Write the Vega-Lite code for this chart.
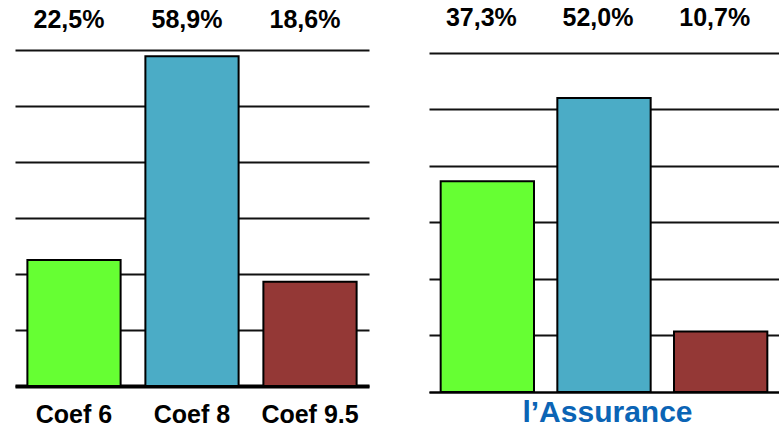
{
  "$schema": "https://vega.github.io/schema/vega-lite/v6.json",
  "padding": {"left": 15, "top": 5, "right": 0, "bottom": 0},
  "background": "white",
  "datasets": {
    "coef2": [
      {"coef": "Coef 6", "share": 0.225},
      {"coef": "Coef 8", "share": 0.589},
      {"coef": "Coef 9.5", "share": 0.186}
    ],
    "coef1": [
      {"coef": "Coef 6", "share": 0.373},
      {"coef": "Coef 8", "share": 0.520},
      {"coef": "Coef 9.5", "share": 0.107}
    ]
  },
  "spacing": 60,
  "hconcat": [
    {
      "width": 354,
      "height": 336,
      "data": {"name": "coef2"},
      "layer": [
        {
          "mark": {"type": "bar", "stroke": "black", "strokeWidth": 2},
          "encoding": {
            "x": {
              "field": "coef", "type": "nominal", "sort": null,
              "scale": {"paddingInner": 0.21, "paddingOuter": 0.105},
              "axis": {"title": null, "labelAngle": 0, "ticks": false, "tickSize": 0, "labelPadding": 16,
                       "domain": true, "domainColor": "black", "domainWidth": 4,
                       "labelFont": "Liberation Sans", "labelFontWeight": "bold", "labelFontSize": 25, "labelColor": "black"}
            },
            "y": {
              "field": "share", "type": "quantitative",
              "scale": {"domain": [0, 0.6], "nice": false},
              "axis": {"title": null, "labels": false, "ticks": false, "domain": false, "grid": true,
                       "values": [0, 0.1, 0.2, 0.3, 0.4, 0.5, 0.6], "gridColor": "#111", "gridWidth": 2}
            },
            "color": {"field": "coef", "type": "nominal", "sort": null,
                      "scale": {"domain": ["Coef 6", "Coef 8", "Coef 9.5"], "range": ["#66FF33", "#4BACC6", "#943836"]},
                      "legend": null}
          }
        },
        {
          "mark": {"type": "text", "font": "Liberation Sans", "fontWeight": "bold", "fontSize": 25, "color": "black", "baseline": "alphabetic", "dx": -5},
          "encoding": {
            "x": {"field": "coef", "type": "nominal", "sort": null},
            "y": {"datum": 0.6393},
            "text": {"field": "share", "type": "quantitative", "format": ".1%"}
          }
        }
      ]
    },
    {
      "width": 350,
      "height": 342,
      "data": {"name": "coef1"},
      "layer": [
        {
          "mark": {"type": "bar", "stroke": "black", "strokeWidth": 2},
          "encoding": {
            "x": {
              "field": "coef", "type": "nominal", "sort": null,
              "scale": {"paddingInner": 0.2, "paddingOuter": 0.1},
              "axis": {"title": "l’Assurance", "labels": false, "ticks": false, "tickSize": 0,
                       "domain": true, "domainColor": "black", "domainWidth": 2,
                       "titleFont": "Liberation Sans", "titleFontWeight": "bold", "titleFontSize": 30,
                       "titleColor": "#0b64b5", "titleX": 178, "titleY": 29, "titleAlign": "center", "titleBaseline": "alphabetic"}
            },
            "y": {
              "field": "share", "type": "quantitative",
              "scale": {"domain": [0, 0.605], "nice": false},
              "axis": {"title": null, "labels": false, "ticks": false, "domain": false, "grid": true,
                       "values": [0, 0.1, 0.2, 0.3, 0.4, 0.5, 0.6], "gridColor": "#111", "gridWidth": 2}
            },
            "color": {"field": "coef", "type": "nominal", "sort": null,
                      "scale": {"domain": ["Coef 6", "Coef 8", "Coef 9.5"], "range": ["#66FF33", "#4BACC6", "#943836"]},
                      "legend": null}
          }
        },
        {
          "mark": {"type": "text", "font": "Liberation Sans", "fontWeight": "bold", "fontSize": 25, "color": "black", "baseline": "alphabetic", "dx": -6},
          "encoding": {
            "x": {"field": "coef", "type": "nominal", "sort": null},
            "y": {"datum": 0.6475},
            "text": {"field": "share", "type": "quantitative", "format": ".1%"}
          }
        }
      ]
    }
  ],
  "resolve": {"scale": {"color": "independent"}},
  "config": {
    "view": {"stroke": null},
    "locale": {"number": {"decimal": ",", "thousands": " ", "grouping": [3], "currency": ["", " €"]}}
  }
}
